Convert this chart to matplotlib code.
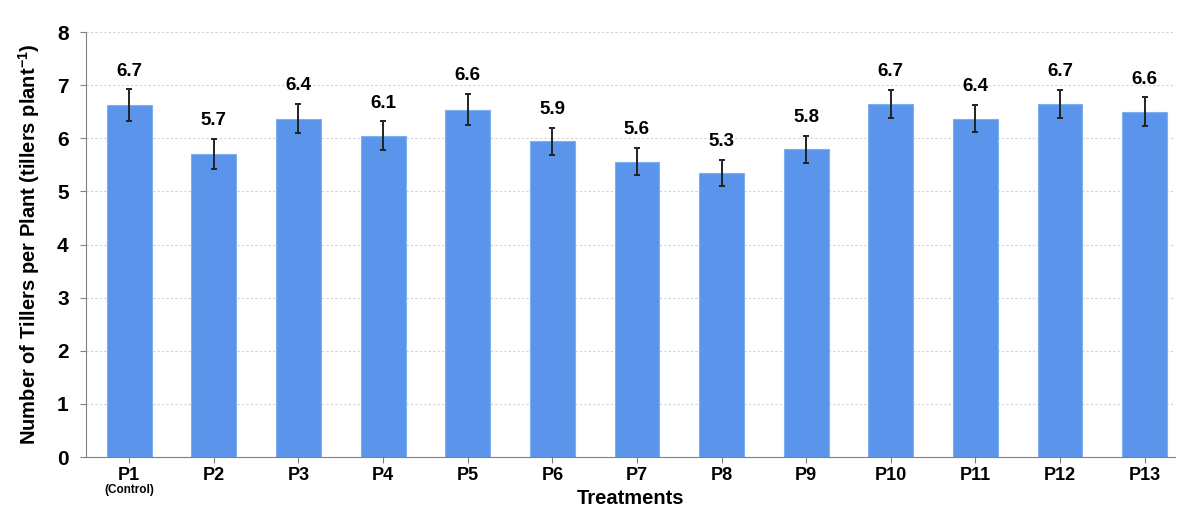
import matplotlib
matplotlib.use('Agg')
import matplotlib.pyplot as plt
import matplotlib.transforms as mtransforms

plt.rcParams['font.family'] = ['Liberation Sans', 'DejaVu Sans']
plt.rcParams['mathtext.fontset'] = 'custom'
plt.rcParams['mathtext.bf'] = 'Liberation Sans:bold'
plt.rcParams['mathtext.rm'] = 'Liberation Sans:bold'

# data
treatments = ['P1', 'P2', 'P3', 'P4', 'P5', 'P6', 'P7', 'P8', 'P9', 'P10', 'P11', 'P12', 'P13']
means = [6.62, 5.71, 6.37, 6.05, 6.54, 5.94, 5.56, 5.35, 5.79, 6.65, 6.37, 6.65, 6.50]
errors = [0.30, 0.28, 0.28, 0.27, 0.29, 0.26, 0.26, 0.25, 0.26, 0.26, 0.26, 0.26, 0.27]
labels = ['6.7', '5.7', '6.4', '6.1', '6.6', '5.9', '5.6', '5.3', '5.8', '6.7', '6.4', '6.7', '6.6']

fig = plt.figure(figsize=(11.87, 5.29), dpi=100)
ax = fig.add_axes([0.0725, 0.136, 0.9175, 0.8035])

x = list(range(len(treatments)))
ax.bar(x, means, width=0.53, color='#5b95eb', edgecolor='#80aef2', linewidth=0.8, zorder=2)
ax.errorbar(x, means, yerr=errors, fmt='none', ecolor='#222222', elinewidth=1.4,
            capsize=2.5, capthick=1.4, zorder=3)

# value labels above the error bars
for xi, m, e, lab in zip(x, means, errors, labels):
    ax.annotate(lab, (xi, m + e), xytext=(0, 7), textcoords='offset points',
                ha='center', va='bottom', fontsize=13.5, fontweight='bold')

ax.set_xlim(-0.51, 12.36)
ax.set_ylim(0, 8)
ax.set_yticks(range(0, 9))
ax.set_xticks(x)
ax.set_xticklabels(treatments, fontsize=13, fontweight='bold')
for t in ax.get_yticklabels():
    t.set_fontsize(15)
    t.set_fontweight('bold')

ax.yaxis.grid(True, linestyle=(0, (2, 2)), color='#d2d2d2', linewidth=0.8, zorder=0)
ax.set_axisbelow(True)
ax.spines['top'].set_visible(False)
ax.spines['right'].set_visible(False)
ax.spines['left'].set_color('#808080')
ax.spines['bottom'].set_color('#808080')
ax.tick_params(axis='both', colors='#808080', length=4, labelcolor='black')
ax.tick_params(axis='y', pad=8.5)

# "(Control)" under P1
trans = mtransforms.blended_transform_factory(ax.transData, ax.transAxes)
ax.text(0, -0.064, '(Control)', transform=trans, ha='center', va='top',
        fontsize=8.5, fontweight='bold')

ax.set_xlabel('Treatments', fontsize=14.5, fontweight='bold', labelpad=3)
ax.set_ylabel(r'Number of Tillers per Plant (tillers plant$^{\mathbf{-1}}$)',
              fontsize=14.5, fontweight='bold', labelpad=11)

fig.savefig('out.png', dpi=100)
